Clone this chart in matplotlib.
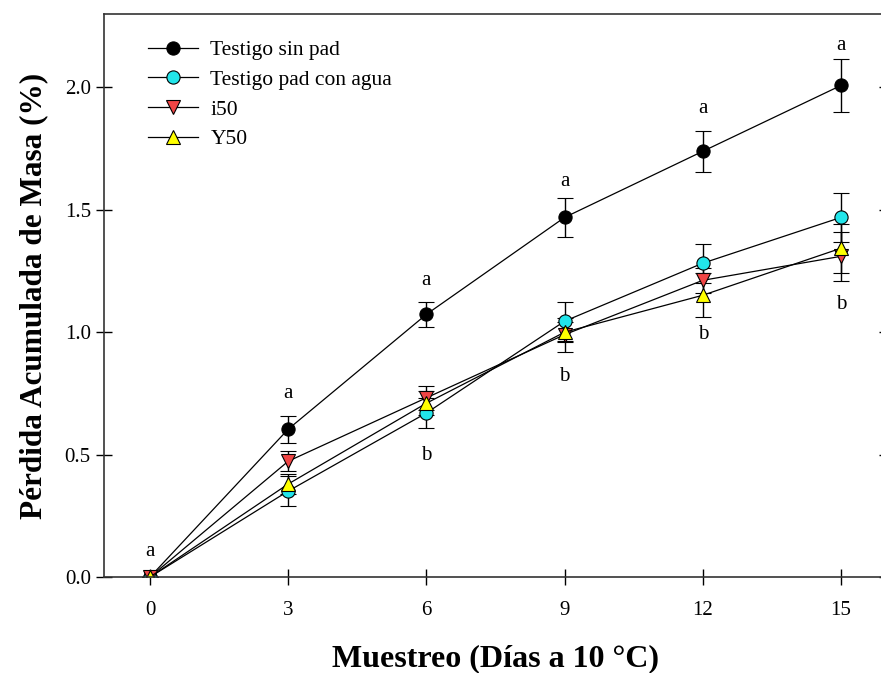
import matplotlib
matplotlib.use("Agg")
import matplotlib.pyplot as plt

days = [0, 3, 6, 9, 12, 15]
sin_pad = [0.0, 0.604, 1.073, 1.469, 1.739, 2.008]
sin_pad_err = [0.0, 0.055, 0.05, 0.08, 0.085, 0.11]
pad_agua = [0.0, 0.351, 0.670, 1.045, 1.282, 1.469]
pad_agua_err = [0.0, 0.06, 0.06, 0.08, 0.08, 0.10]
i50 = [0.0, 0.473, 0.732, 0.990, 1.212, 1.310]
i50_err = [0.0, 0.04, 0.05, 0.07, 0.05, 0.10]
y50 = [0.0, 0.380, 0.710, 1.000, 1.151, 1.343]
y50_err = [0.0, 0.04, 0.05, 0.04, 0.09, 0.10]

labels = ["Testigo sin pad", "Testigo pad con agua", "i50", "Y50"]
letters_a = ["a", "a", "a", "a", "a", "a"]
letters_a_y = [0.106, 0.75, 1.21, 1.616, 1.914, 2.17]
letters_b_x = [6, 9, 12, 15]
letters_b = ["b", "b", "b", "b"]
letters_b_y = [0.498, 0.82, 0.99, 1.114]

plt.rcParams['font.family'] = ['Liberation Serif', 'DejaVu Serif']

fig = plt.figure(figsize=(8.81, 6.73), dpi=100)
ax = fig.add_axes([104/881, 96/673, (887-104)/881, (577-14)/673])

series = [
    (sin_pad, sin_pad_err, 'o', 'black'),
    (pad_agua, pad_agua_err, 'o', '#22e5ea'),
    (i50, i50_err, 'v', '#f04545'),
    (y50, y50_err, '^', '#ffff00'),
]
handles = []
for (vals, errs, mk, col), lab in zip(series, labels):
    c = ax.errorbar(days, vals, yerr=errs, fmt='-', color='black', lw=0.9,
                    marker=mk, markerfacecolor=col, markeredgecolor='black',
                    markeredgewidth=0.8, markersize=9.5, ecolor='black',
                    elinewidth=1.0, capsize=5.5, capthick=1.0, label=lab)
    handles.append(c.lines[0])

for x, t, y in zip(days, letters_a, letters_a_y):
    ax.text(x, y, t, ha='center', va='center', fontsize=15)
for x, t, y in zip(letters_b_x, letters_b, letters_b_y):
    ax.text(x, y, t, ha='center', va='center', fontsize=15)

ax.set_xlim(-1, 16)
ax.set_ylim(0, 2.3)
ax.set_xticks(days)
ax.set_yticks([0.0, 0.5, 1.0, 1.5, 2.0])
ax.set_yticklabels(['0.0', '0.5', '1.0', '1.5', '2.0'])
ax.tick_params(direction='inout', length=11, width=1, labelsize=15, right=True)
ax.tick_params(axis='x', pad=12)
ax.tick_params(axis='y', pad=4)
for s in ax.spines.values():
    s.set_linewidth(1.2)
    s.set_color('#333333')

ax.set_xlabel('Muestreo (Días a 10 °C)', fontsize=23, fontweight='bold', labelpad=17)
ax.set_ylabel('Pérdida Acumulada de Masa (%)', fontsize=22.5, fontweight='bold', labelpad=12)

leg = ax.legend(handles=handles, labels=labels, loc='upper left',
                bbox_to_anchor=((148-104)/783, 1 - (40-14)/563), frameon=False,
                fontsize=15.5, handlelength=2.3, handletextpad=0.6,
                labelspacing=0.45, borderaxespad=0, borderpad=0)

fig.savefig('out.png', dpi=100)
